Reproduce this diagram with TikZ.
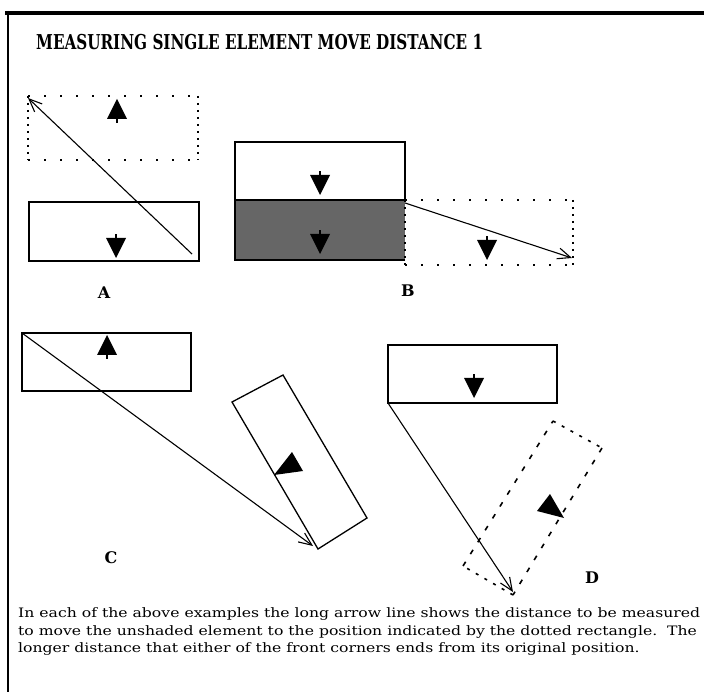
\documentclass[tikz,border=0pt]{standalone}
\usepackage{fontspec}
\setmainfont{DejaVu Serif}
\usetikzlibrary{arrows.meta}
\newlength\bodyW
\newlength\titleW
\newcommand\bodyfont{\fontsize{13pt}{16pt}\selectfont}
\newcommand\titlefont{\fontsize{20.5pt}{24pt}\selectfont\bfseries}
\newcommand\lineone{In each of the above examples the long arrow line shows the distance to be measured}
\newcommand\linetwo{to move the unshaded element to the position indicated by the dotted rectangle.\ \ The}
\newcommand\linethree{longer distance that either of the front corners ends from its original position.}
\newcommand\titletext{MEASURING SINGLE ELEMENT MOVE DISTANCE 1}
\begin{document}
\settowidth\bodyW{\bodyfont\lineone}%
\settowidth\titleW{\titlefont\titletext}%
\pgfmathsetmacro\bsx{682/\bodyW}%
\pgfmathsetmacro\tsx{447/\titleW}%
\begin{tikzpicture}[x=1pt,y=-1pt,
  solidrect/.style={draw=black,line width=1.5pt},
  hdots/.style={draw=black,line width=1.8pt,dash pattern=on 1.8pt off 14.2pt},
  vdots/.style={draw=black,line width=1.8pt,dash pattern=on 1.8pt off 5.2pt},
  longdash/.style={draw=black,line width=1.6pt,dash pattern=on 5pt off 9pt},
  shortdash/.style={draw=black,line width=1.6pt,dash pattern=on 3pt off 7pt},
  movearrow/.style={draw=black,line width=1.1pt,-{Straight Barb[length=13pt,width=11pt,line width=1.1pt]}},
  caption/.style={font=\fontsize{16pt}{18pt}\selectfont\bfseries,inner sep=0pt},
  marker/.pic={\fill (0,-12) -- (10,8) -- (-10,8) -- cycle;
               \draw[line width=1.5pt] (0,8) -- (0,12);}
]
\useasboundingbox (0,0) rectangle (704,692);
% frame
\draw[line width=4pt] (5,13) -- (704,13);
\draw[line width=2pt] (8,11) -- (8,692);
% title
\node[anchor=base west,inner sep=0pt] (title) at (36,50) {\scalebox{\tsx}[1]{\titlefont\titletext}};
% ---------------- A ----------------
\draw[hdots] (28,96) -- (198,96);
\draw[hdots] (28,160) -- (198,160);
\draw[vdots] (28,96) -- (28,160);
\draw[vdots] (198,96) -- (198,160);
\draw[solidrect] (29,202) rectangle (199,261);
\pic at (117,111) {marker};
\pic[rotate=180] at (116,246) {marker};
\coordinate (a1) at (192,254);
\coordinate (a2) at (28,98);
\draw[movearrow] (a1) -- (a2);
\node[caption] (labA) at (104,293) {A};
% ---------------- B ----------------
\draw[solidrect] (235,142) rectangle (405,200);
\fill[black!60] (235,200) rectangle (405,260);
\draw[line width=1.5pt] (405,260) -- (235,260) -- (235,200) -- (405,200);
\draw[hdots] (405,200) -- (573,200);
\draw[hdots] (405,265) -- (573,265);
\draw[vdots] (405,200) -- (405,265);
\draw[vdots] (573,200) -- (573,265);
\pic[rotate=180] at (320,183) {marker};
\pic[rotate=180] at (320,242) {marker};
\pic[rotate=180] at (487,248) {marker};
\coordinate (b1) at (405,203);
\coordinate (b2) at (572,258);
\draw[movearrow] (b1) -- (b2);
\node[caption] (labB) at (408,291) {B};
% ---------------- C ----------------
\draw[solidrect] (22,333) rectangle (191,391);
\pic at (107,347) {marker};
\draw[line width=1.3pt] (232,402) -- (283,375) -- (367,518) -- (318,549) -- cycle;
\fill (292,452) -- (274,475) -- (303,471) -- cycle;
\coordinate (c1) at (22,333);
\coordinate (c2) at (313,546);
\draw[movearrow] (c1) -- (c2);
\node[caption] (labC) at (111,558) {C};
% ---------------- D ----------------
\draw[solidrect] (388,345) rectangle (557,403);
\pic[rotate=180] at (474,386) {marker};
\draw[shortdash] (553,421) -- (602,448);
\draw[longdash] (602,448) -- (513,595);
\draw[shortdash] (513,595) -- (463,566);
\draw[longdash] (463,566) -- (553,421);
\fill (550,494) -- (537,511) -- (564,518) -- cycle;
\coordinate (d1) at (388,403);
\coordinate (d2) at (513,592);
\draw[movearrow] (d1) -- (d2);
\node[caption] (labD) at (592,578) {D};
% ---------------- text ----------------
\node[anchor=base west,inner sep=0pt] (t1) at (18,617) {\scalebox{\bsx}[1]{\bodyfont\lineone}};
\node[anchor=base west,inner sep=0pt] (t2) at (18,635) {\scalebox{\bsx}[1]{\bodyfont\linetwo}};
\node[anchor=base west,inner sep=0pt] (t3) at (18,652) {\scalebox{\bsx}[1]{\bodyfont\linethree}};
\end{tikzpicture}
\end{document}
